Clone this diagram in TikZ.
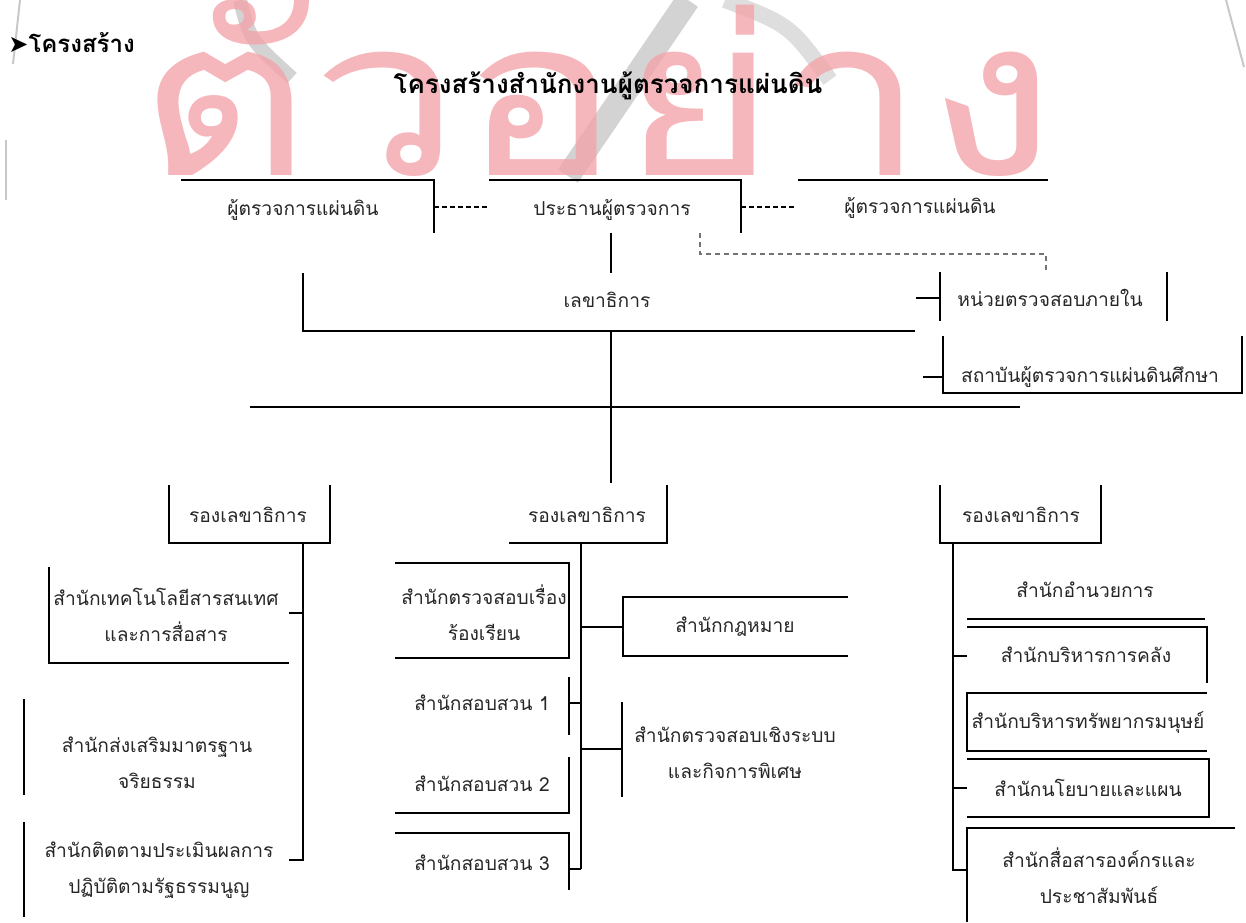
\documentclass[tikz,border=0pt]{standalone}
\usepackage{fontspec}
\setmainfont{Loma}[Script=Thai]
\newfontfamily\dejavu{DejaVu Sans}
\definecolor{wmpink}{RGB}{243,165,170}
\definecolor{wmgray}{RGB}{200,200,200}
\tikzset{
  lbl/.style={font=\fontsize{9.6}{18}\selectfont, text=black!85, align=center, inner sep=0pt},
  ln/.style={line width=1.2pt, black},
  dsh/.style={line width=0.9pt, black, dash pattern=on 2.5pt off 1.5pt},
  gdsh/.style={line width=0.8pt, black!55, dash pattern=on 2.5pt off 2pt},
  wmline/.style={line width=1pt, wmgray},
}
\begin{document}
\begin{tikzpicture}[x=0.5pt,y=-0.5pt]
\useasboundingbox (0,0) rectangle (1246,922);
% ---------- watermark ----------
\draw[wmgray, line width=7pt, opacity=0.8] (240,0) .. controls (250,40) .. (292,78);
\draw[wmgray, line width=12pt, opacity=0.8] (568,176) -- (688,0);
\draw[wmgray, line width=8pt, opacity=0.6] (725,0) .. controls (790,25) .. (830,80);
\draw[wmline] (20,0) -- (13,64);
\draw[wmline] (6,140) -- (6,200);
\draw[wmline] (1226,0) -- (1244,67);
\node[anchor=base west, inner sep=0pt, text=wmpink, opacity=0.8,
      font=\fontsize{110}{110}\selectfont] (wm) at (138,175) {\smash{\scalebox{1.21}[1]{ตัวอย่าง}}};
% ---------- titles ----------
\node[anchor=west, inner sep=0pt, font=\bfseries\fontsize{12}{12}\selectfont] (hdr) at (8,43) {{\dejavu ➤}โครงสร้าง};
\node[inner sep=0pt, font=\bfseries\fontsize{13}{13}\selectfont] (title) at (608,86) {โครงสร้างสำนักงานผู้ตรวจการแผ่นดิน};
% ---------- top level ----------
\node[lbl] (ombL) at (303,210) {ผู้ตรวจการแผ่นดิน};
\node[lbl] (chair) at (612,210) {ประธานผู้ตรวจการ};
\node[lbl] (ombR) at (920,208) {ผู้ตรวจการแผ่นดิน};
\node[lbl] (sec) at (607,300) {เลขาธิการ};
\node[lbl] (audit) at (1050,298) {หน่วยตรวจสอบภายใน};
\node[lbl] (inst) at (1090,377) {สถาบันผู้ตรวจการแผ่นดินศึกษา};
\draw[ln] (181,180) -- (434,180) -- (434,233);
\draw[ln] (489,180) -- (741,180) -- (741,233);
\draw[ln] (798,180) -- (1048,180);
\draw[dsh] (434,207) -- (487,207);
\draw[dsh] (741,207) -- (794,207);
\coordinate (chairS) at (611,233);
\coordinate (secN) at (611,273);
\draw[ln] (chairS) -- (secN);
\draw[gdsh] (700,233) -- (700,254) -- (1046,254) -- (1046,272);
\draw[ln] (303,273) -- (303,331) -- (915,331);
\coordinate (trunkTop) at (611,331);
\coordinate (trunkBot) at (611,483);
\draw[ln] (trunkTop) -- (trunkBot);
\draw[ln] (250,407) -- (1020,407);
\draw[ln] (916,298) -- (940,298);
\draw[ln] (940,272) -- (940,321);
\draw[ln] (1167,272) -- (1167,321);
\draw[ln] (923,377) -- (943,377);
\draw[ln] (943,336) -- (943,393) -- (1242,393) -- (1242,336);
% ---------- deputies ----------
\node[lbl] (depL) at (248,515) {รองเลขาธิการ};
\node[lbl] (depM) at (587,515) {รองเลขาธิการ};
\node[lbl] (depR) at (1021,515) {รองเลขาธิการ};
\draw[ln] (169,485) -- (169,543) -- (330,543) -- (330,485);
\draw[ln] (509,543) -- (667,543) -- (667,485);
\draw[ln] (940,485) -- (940,543) -- (1101,543) -- (1101,485);
% ---------- left group ----------
\node[lbl] (L1) at (166,615) {สำนักเทคโนโลยีสารสนเทศ\\และการสื่อสาร};
\node[lbl] (L2) at (157,763) {สำนักส่งเสริมมาตรฐาน\\จริยธรรม};
\node[lbl] (L3) at (159,870) {สำนักติดตามประเมินผลการ\\ปฏิบัติตามรัฐธรรมนูญ};
\draw[ln] (303,543) -- (303,860) -- (289,860);
\draw[ln] (289,613) -- (303,613);
\draw[ln] (49,567) -- (49,663) -- (289,663);
\draw[ln] (24,699) -- (24,795);
\draw[ln] (24,822) -- (24,917);
% ---------- middle group ----------
\node[lbl] (M1) at (484,613) {สำนักตรวจสอบเรื่อง\\ร้องเรียน};
\node[lbl] (M2) at (735,627) {สำนักกฎหมาย};
\node[lbl] (M3) at (482,703) {สำนักสอบสวน 1};
\node[lbl] (M4) at (482,784) {สำนักสอบสวน 2};
\node[lbl] (M5) at (482,863) {สำนักสอบสวน 3};
\node[lbl] (M6) at (735,753) {สำนักตรวจสอบเชิงระบบ\\และกิจการพิเศษ};
\draw[ln] (581,543) -- (581,869);
\draw[ln] (395,563) -- (569,563) -- (569,658) -- (395,658);
\draw[ln] (581,627) -- (623,627);
\draw[ln] (848,597) -- (623,597) -- (623,656) -- (848,656);
\draw[ln] (569,677) -- (569,735);
\draw[ln] (569,703) -- (581,703);
\draw[ln] (569,757) -- (569,813) -- (395,813);
\draw[ln] (395,833) -- (569,833) -- (569,890);
\draw[ln] (569,869) -- (581,869);
\draw[ln] (622,702) -- (622,797);
\draw[ln] (581,749) -- (622,749);
% ---------- right group ----------
\node[lbl] (R1) at (1085,590) {สำนักอำนวยการ};
\node[lbl] (R2) at (1086,655) {สำนักบริหารการคลัง};
\node[lbl] (R3) at (1088,723) {สำนักบริหารทรัพยากรมนุษย์};
\node[lbl] (R4) at (1088,788) {สำนักนโยบายและแผน};
\node[lbl] (R5) at (1099,876) {สำนักสื่อสารองค์กรและ\\ประชาสัมพันธ์};
\draw[ln] (953,543) -- (953,870) -- (967,870);
\draw[ln] (967,619) -- (1205,619);
\draw[ln] (967,627) -- (1207,627) -- (1207,683);
\draw[ln] (953,656) -- (967,656);
\draw[ln] (1207,693) -- (967,693) -- (967,751) -- (1207,751);
\draw[ln] (967,759) -- (1209,759) -- (1209,817) -- (967,817);
\draw[ln] (953,788) -- (967,788);
\draw[ln] (1235,828) -- (967,828) -- (967,922);
\end{tikzpicture}
\end{document}
